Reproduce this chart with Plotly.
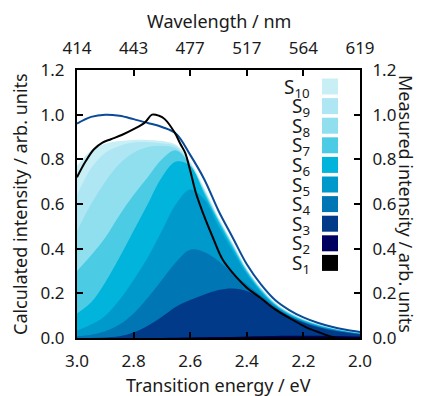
import plotly.graph_objects as go

energy = [3.00, 2.95, 2.90, 2.85, 2.80, 2.75, 2.70, 2.65, 2.60, 2.55, 2.50,
          2.45, 2.40, 2.35, 2.30, 2.25, 2.20, 2.15, 2.10, 2.05, 2.00]

s10 = [0.77, 0.84, 0.87, 0.882, 0.887, 0.887, 0.882, 0.865, 0.79, 0.67, 0.54,
       0.425, 0.31, 0.225, 0.158, 0.115, 0.085, 0.062, 0.045, 0.033, 0.024]
s9 = [0.64, 0.76, 0.83, 0.86, 0.875, 0.877, 0.872, 0.858, 0.785, 0.665, 0.536,
      0.421, 0.307, 0.222, 0.156, 0.113, 0.083, 0.061, 0.044, 0.032, 0.023]
s8 = [0.48, 0.60, 0.70, 0.78, 0.83, 0.855, 0.86, 0.85, 0.78, 0.66, 0.532,
      0.418, 0.304, 0.22, 0.154, 0.112, 0.082, 0.06, 0.043, 0.031, 0.022]
s7 = [0.30, 0.37, 0.45, 0.55, 0.64, 0.72, 0.80, 0.84, 0.775, 0.655, 0.528,
      0.414, 0.301, 0.217, 0.152, 0.11, 0.08, 0.059, 0.042, 0.030, 0.021]
s6 = [0.11, 0.16, 0.25, 0.36, 0.48, 0.60, 0.72, 0.79, 0.77, 0.645, 0.52,
      0.405, 0.295, 0.212, 0.149, 0.107, 0.078, 0.057, 0.041, 0.029, 0.020]
s5 = [0.034, 0.06, 0.10, 0.17, 0.26, 0.36, 0.48, 0.60, 0.665, 0.62, 0.50,
      0.39, 0.285, 0.205, 0.145, 0.104, 0.076, 0.055, 0.040, 0.028, 0.019]
s4 = [0.008, 0.015, 0.03, 0.06, 0.11, 0.18, 0.26, 0.34, 0.395, 0.385, 0.345,
      0.29, 0.24, 0.19, 0.14, 0.10, 0.072, 0.052, 0.037, 0.027, 0.018]
s3 = [0.0, 0.0, 0.002, 0.008, 0.025, 0.055, 0.095, 0.14, 0.17, 0.195, 0.215,
      0.222, 0.21, 0.178, 0.135, 0.097, 0.069, 0.049, 0.035, 0.025, 0.017]
s2 = [0.0, 0.0, 0.0, 0.0, 0.0, 0.0, 0.0, 0.001, 0.002, 0.003, 0.004,
      0.005, 0.007, 0.008, 0.009, 0.010, 0.010, 0.010, 0.009, 0.008, 0.007]
s1 = [0.0, 0.0, 0.0, 0.0, 0.0, 0.0, 0.0, 0.0, 0.0, 0.001, 0.001,
      0.002, 0.002, 0.003, 0.003, 0.003, 0.003, 0.003, 0.003, 0.002, 0.002]

envelope = [0.96, 0.99, 1.0, 0.995, 0.98, 0.963, 0.945, 0.915, 0.82, 0.71, 0.57,
            0.45, 0.33, 0.24, 0.17, 0.125, 0.092, 0.068, 0.05, 0.037, 0.027]

meas_energy = [3.00, 2.97, 2.94, 2.91, 2.88, 2.84, 2.80, 2.76, 2.735, 2.71, 2.69,
               2.655, 2.635, 2.618, 2.60, 2.58, 2.555, 2.52, 2.485, 2.435, 2.40,
               2.35, 2.30, 2.25, 2.19, 2.15, 2.11, 2.09]
measured = [0.72, 0.79, 0.845, 0.875, 0.89, 0.91, 0.935, 0.965, 1.0, 0.995, 0.98,
            0.92, 0.87, 0.83, 0.75, 0.65, 0.56, 0.45, 0.35, 0.27, 0.225,
            0.178, 0.128, 0.09, 0.048, 0.028, 0.009, 0.003]

state_names = ["S<sub>10</sub>", "S<sub>9</sub>", "S<sub>8</sub>", "S<sub>7</sub>",
               "S<sub>6</sub>", "S<sub>5</sub>", "S<sub>4</sub>", "S<sub>3</sub>",
               "S<sub>2</sub>", "S<sub>1</sub>"]
state_series = [s10, s9, s8, s7, s6, s5, s4, s3, s2, s1]
state_colors = ["#c8eef6", "#aee7f3", "#8fdfef", "#4ccbe4", "#00b4dc",
                "#0099cb", "#0077b4", "#003a88", "#000060", "#000000"]

energy_ticks = [3.0, 2.8, 2.6, 2.4, 2.2, 2.0]
wavelength_labels = ["414", "443", "477", "517", "564", "619"]

FONT = "Noto Sans"
TXT = "#1a1a1a"

fig = go.Figure()
for name, ys, col in zip(state_names, state_series, state_colors):
    fig.add_trace(go.Scatter(x=energy, y=ys, mode="lines", fill="tozeroy",
                             fillcolor=col, line=dict(width=0, shape="spline", color=col),
                             name=name, showlegend=False, hoverinfo="skip"))

fig.add_trace(go.Scatter(x=energy, y=envelope, mode="lines",
                         line=dict(color="#0b4a96", width=2, shape="spline"),
                         showlegend=False))
fig.add_trace(go.Scatter(x=meas_energy, y=measured, mode="lines", yaxis="y2",
                         line=dict(color="#000000", width=2, shape="spline"),
                         showlegend=False))
# invisible trace for top axis
fig.add_trace(go.Scatter(x=[energy[0], energy[-1]], y=[None, None], xaxis="x2",
                         mode="lines", showlegend=False))

L, R, T, B = 77, 65, 70, 58
W, H = 425, 396
pw, ph = W - L - R, H - T - B

def px2paper(xp, yp):
    return (xp - L) / pw, (H - B - yp) / ph

axis_common = dict(showline=True, linecolor="black", linewidth=2, ticks="inside",
                   ticklen=6, tickwidth=2, tickcolor="black", showgrid=False,
                   zeroline=False, tickfont=dict(family=FONT, size=17, color=TXT),
                   ticklabelstandoff=7)

fig.update_layout(
    width=W, height=H, margin=dict(l=L, r=R, t=T, b=B),
    plot_bgcolor="white", paper_bgcolor="white",
    font=dict(family=FONT, size=18, color=TXT),
    xaxis=dict(range=[3.0, 2.0], tickvals=energy_ticks, tickformat=".1f", **axis_common),
    xaxis2=dict(range=[3.0, 2.0], overlaying="x", side="top", tickvals=energy_ticks,
                ticktext=wavelength_labels, **axis_common),
    yaxis=dict(range=[0, 1.2], dtick=0.2, tickformat=".1f", **axis_common),
    yaxis2=dict(range=[0, 1.2], dtick=0.2, tickformat=".1f", overlaying="y",
                side="right", **axis_common),
)

ann = []
def title(text, xp, yp, angle=0):
    x, y = px2paper(xp, yp)
    ann.append(dict(text=text, x=x, y=y, xref="paper", yref="paper", showarrow=False,
                    xanchor="center", yanchor="middle", textangle=angle,
                    font=dict(size=18)))

title("Transition energy / eV", (L + W - R) / 2, 385)
title("Wavelength / nm", (L + W - R) / 2, 21)
title("Calculated intensity / arb. units", 20, T + ph / 2, -90)
title("Measured intensity / arb. units", 406, T + ph / 2, 90)

shapes = []
for i, (name, col) in enumerate(zip(state_names, state_colors)):
    yc = 86.5 + i * 19.6
    x0, y0 = px2paper(322, yc - 8)
    x1, y1 = px2paper(338, yc + 8)
    shapes.append(dict(type="rect", xref="paper", yref="paper", x0=x0, x1=x1,
                       y0=y1, y1=y0, fillcolor=col, line=dict(width=0)))
    xt, yt = px2paper(312, yc + 1)
    ann.append(dict(text=name, x=xt, y=yt, xref="paper", yref="paper",
                    xanchor="right", yanchor="middle", showarrow=False,
                    font=dict(size=19)))

fig.update_layout(annotations=ann, shapes=shapes)
fig.write_html("out.html")
